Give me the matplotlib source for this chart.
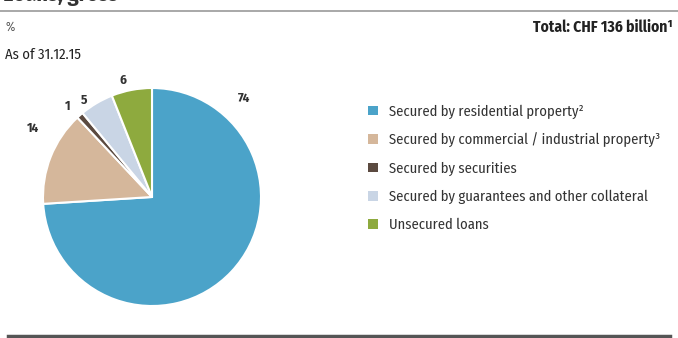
import matplotlib
matplotlib.use("Agg")
import matplotlib.pyplot as plt
from matplotlib.patches import Patch
import numpy as np

plt.rcParams['font.family'] = ['Fira Sans Condensed', 'DejaVu Sans']

categories = [
    "Secured by residential property²",
    "Secured by commercial / industrial property³",
    "Secured by securities",
    "Secured by guarantees and other collateral",
    "Unsecured loans",
]
values = [74, 14, 1, 5, 6]
value_labels = ["74", "14", "1", "5", "6"]
colors = ["#4ba3c9", "#d5b79b", "#5b4a40", "#c9d5e5", "#8eaa3e"]
# label placement (style): angle in degrees, distance in radius units
label_angles = [47, 150, 133, 125, 104]
label_dist = [1.24, 1.26, 1.14, 1.08, 1.10]

W, H = 678, 338
fig = plt.figure(figsize=(W / 100, H / 100), dpi=100)

# title (cut off at top) and rules
fig.text(3 / W, 1 - 1 / H, "Loans, gross", fontsize=16, fontweight="bold",
         color="#333333", va="baseline", ha="left")
fig.add_artist(plt.Line2D([0, 1], [1 - 11 / H, 1 - 11 / H], color="#9a9a9a", lw=1.2))
fig.add_artist(plt.Line2D([8 / W, 670 / W], [1 - 336 / H, 1 - 336 / H], color="#555555", lw=2.5))

fig.text(5 / W, 1 - 27 / H, "%", fontsize=9, color="#555555", va="center", ha="left")
fig.text(673 / W, 1 - 27 / H, "Total: CHF 136 billion¹", fontsize=11.2, fontweight="bold",
         color="#222222", va="center", ha="right")
fig.text(5 / W, 1 - 55 / H, "As of 31.12.15", fontsize=10.5, color="#222222",
         va="center", ha="left")

cx, cy, r = 152, 197, 109
ax = fig.add_axes([(cx - r) / W, 1 - (cy + r) / H, 2 * r / W, 2 * r / H])
wedges, _ = ax.pie(values, colors=colors, startangle=90, counterclock=False,
                   wedgeprops=dict(edgecolor="white", linewidth=1.5))
ax.set_xlim(-1, 1)
ax.set_ylim(-1, 1)
ax.set_aspect("equal")
ax.axis("off")

for lab, ang, d in zip(value_labels, label_angles, label_dist):
    a = np.deg2rad(ang)
    ax.text(d * np.cos(a), d * np.sin(a), lab, fontsize=9.5, fontweight="bold",
            color="#333333", ha="center", va="center", clip_on=False)

handles = [Patch(facecolor=c, edgecolor="none") for c in colors]
fig.legend(handles, categories, loc="upper left",
           bbox_to_anchor=(361 / W, 1 - 97 / H), frameon=False, fontsize=10.5,
           handlelength=0.65, handleheight=0.65, handletextpad=0.75,
           labelspacing=0.95, borderpad=0, labelcolor="#333333")

fig.savefig("out.png", dpi=100)
